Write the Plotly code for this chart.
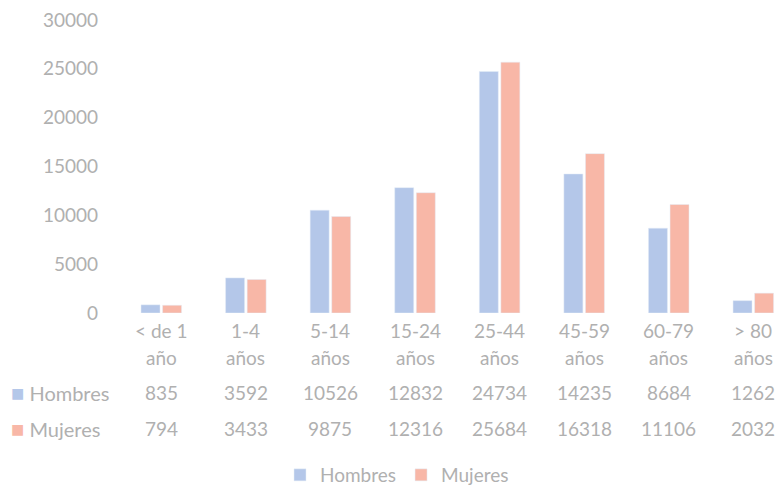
import plotly.graph_objects as go

categories = ["< de 1", "1-4", "5-14", "15-24", "25-44", "45-59", "60-79", "> 80"]
second_line = ["año", "años", "años", "años", "años", "años", "años", "años"]
hombres = [835, 3592, 10526, 12832, 24734, 14235, 8684, 1262]
mujeres = [794, 3433, 9875, 12316, 25684, 16318, 11106, 2032]
y_ticks = [0, 5000, 10000, 15000, 20000, 25000, 30000]
y_ticktext = [str(v) for v in y_ticks]

BLUE = "#b4c7e9"
PINK = "#f8b7a7"
TXT = "#b0b0b0"
FONT = "Lato"
FS = 19

W, H = 777, 489
L, R, T, B = 119, 0, 20, 176
ph = H - T - B
pw = W - L - R

def py(p):
    return (H - B - p) / ph

def px(p):
    return (p - L) / pw

x = list(range(len(categories)))

fig = go.Figure()
fig.add_trace(go.Bar(x=x, y=hombres, name="Hombres", marker_color=BLUE))
fig.add_trace(go.Bar(x=x, y=mujeres, name="Mujeres", marker_color=PINK))

ann = []
for i, c in enumerate(categories):
    ann.append(dict(x=i, y=py(330), xref="x", yref="paper", text=c, showarrow=False,
                    font=dict(family=FONT, size=FS, color=TXT), xanchor="center", yanchor="middle"))
    ann.append(dict(x=i, y=py(357), xref="x", yref="paper", text=second_line[i], showarrow=False,
                    font=dict(family=FONT, size=FS, color=TXT), xanchor="center", yanchor="middle"))
    ann.append(dict(x=i, y=py(392), xref="x", yref="paper", text=str(hombres[i]), showarrow=False,
                    font=dict(family=FONT, size=FS, color=TXT), xanchor="center", yanchor="middle"))
    ann.append(dict(x=i, y=py(428), xref="x", yref="paper", text=str(mujeres[i]), showarrow=False,
                    font=dict(family=FONT, size=FS, color=TXT), xanchor="center", yanchor="middle"))

for name, col, ypix in [("Hombres", BLUE, 392), ("Mujeres", PINK, 428)]:
    ann.append(dict(x=px(9), y=py(ypix), xref="paper", yref="paper",
                    text=f"<span style='color:{col};font-size:22px'>■</span> {name}", showarrow=False,
                    font=dict(family=FONT, size=FS + 1, color=TXT), xanchor="left", yanchor="middle"))

fig.update_layout(
    width=W, height=H,
    margin=dict(l=L, r=R, t=T, b=B, pad=0, autoexpand=False),
    paper_bgcolor="white", plot_bgcolor="white",
    barmode="group", bargap=0.49, bargroupgap=0.12,
    font=dict(family=FONT, size=FS, color=TXT),
    xaxis=dict(range=[-0.5, 7.28], showticklabels=False, showgrid=False, zeroline=False,
               showline=False, ticks=""),
    yaxis=dict(range=[0, 30000], tickvals=y_ticks, ticktext=y_ticktext, showgrid=False,
               zeroline=False, showline=False, ticks="", ticklabelstandoff=20,
               tickfont=dict(family=FONT, size=FS, color=TXT)),
    showlegend=True,
    legend=dict(orientation="h", x=px(397), y=py(475), xanchor="center", yanchor="middle",
                font=dict(family=FONT, size=FS, color=TXT), itemwidth=30, traceorder="normal"),
    annotations=ann,
)

fig.write_html("out.html")
